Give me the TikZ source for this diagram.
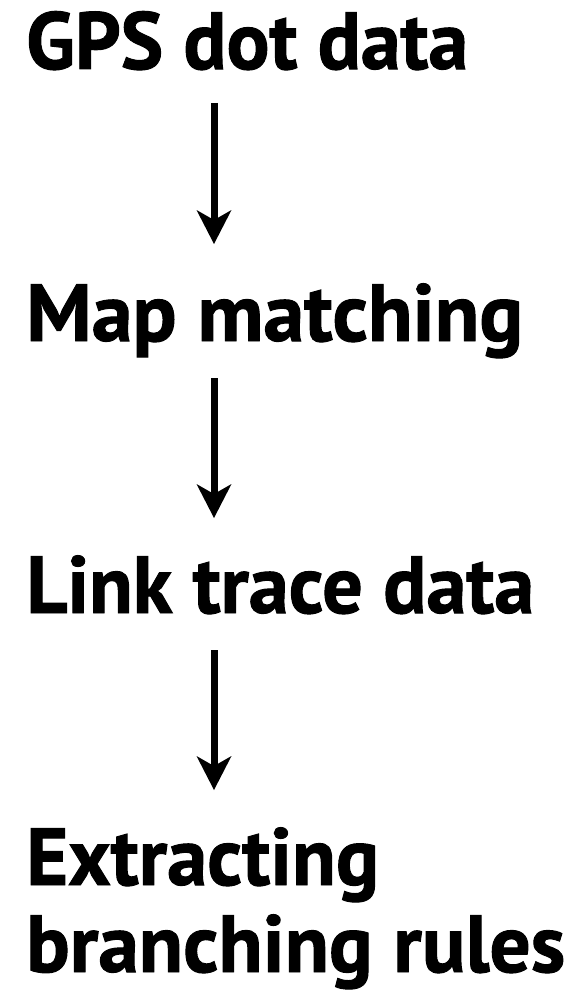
\documentclass[tikz,border=0pt]{standalone}
\usepackage{fontspec}
\setmainfont{PT Sans}[BoldFeatures={FakeBold=1.2}]
\usepackage{graphicx}
\usetikzlibrary{arrows.meta}
\tikzset{
  lbl/.style={anchor=base west, inner sep=0pt, font=\bfseries\fontsize{81}{87}\selectfont},
  arr/.style={line width=7pt, -{Stealth[length=34pt,width=35pt,inset=10pt,line width=0pt]}}
}
\newcommand{\fitw}[2]{\resizebox{#1}{\height}{#2}}
\begin{document}
\begin{tikzpicture}[x=1pt,y=1pt]
\useasboundingbox (0,0) rectangle (588,-995);
\node[lbl] (gps) at (26,-69) {\fitw{442pt}{GPS dot data}};
\node[lbl] (map) at (26,-341) {\fitw{497pt}{Map matching}};
\node[lbl] (link) at (26,-613) {\fitw{508pt}{Link trace data}};
\node[lbl] (ext) at (26,-885) {\vtop{\baselineskip=87pt\lineskiplimit=-100pt\hbox{\fitw{353pt}{Extracting}}\hbox{\fitw{539pt}{branching rules}}}};
\coordinate (ax) at (214,0);
\draw[arr] ([yshift=-34pt]gps.base -| ax) -- ([yshift=97pt]map.base -| ax);
\draw[arr] ([yshift=-37pt]map.base -| ax) -- ([yshift=95pt]link.base -| ax);
\draw[arr] ([yshift=-37pt]link.base -| ax) -- ([yshift=95pt]ext.base -| ax);
\end{tikzpicture}
\end{document}
